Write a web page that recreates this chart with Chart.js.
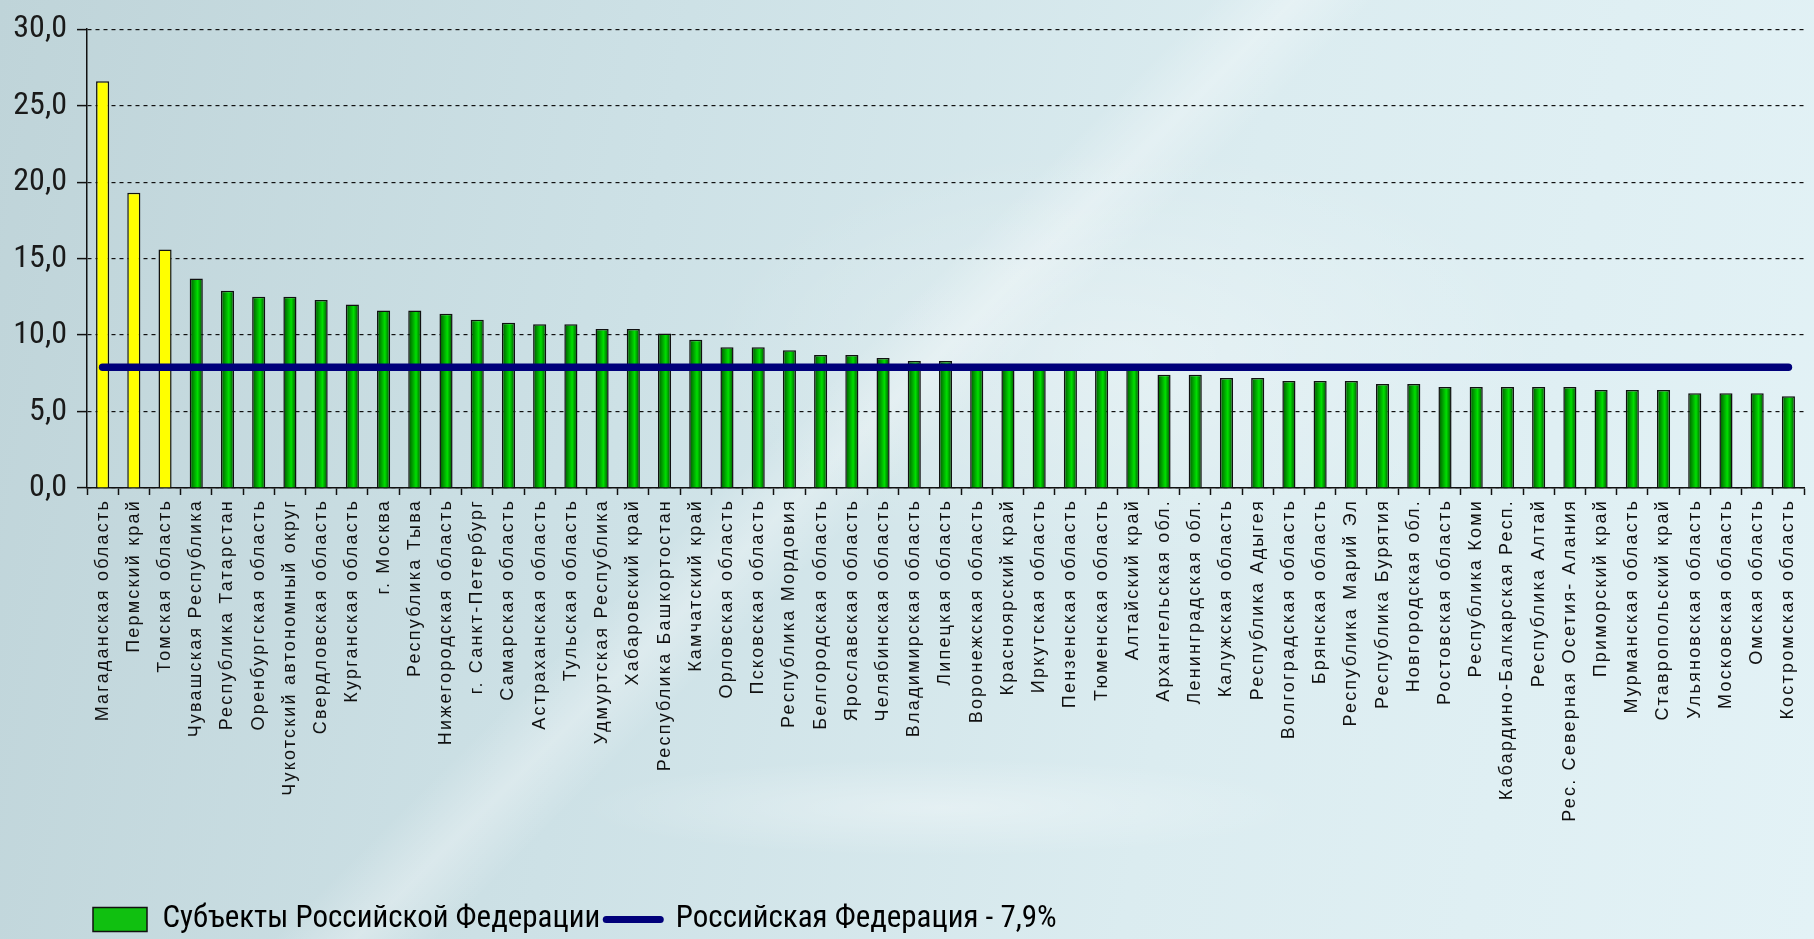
<!DOCTYPE html>
<html>
<head>
<meta charset="utf-8">
<script src="https://cdn.jsdelivr.net/npm/chart.js@4"></script>
<style>
  html, body { margin: 0; padding: 0; }
  body {
    width: 1814px; height: 939px; overflow: hidden;
    background:
      radial-gradient(ellipse 520px 70px at 52% 86%, rgba(255,255,255,0.35), rgba(255,255,255,0) 70%),
      radial-gradient(ellipse 600px 300px at 62% 38%, rgba(255,255,255,0.3), rgba(255,255,255,0) 70%),
      linear-gradient(135deg, rgba(255,255,255,0) 44%, rgba(255,255,255,0.3) 47%, rgba(255,255,255,0) 50%),
      linear-gradient(100deg, #bfd4d9 0%, #cde1e6 35%, #dbecf0 65%, #e3f2f6 100%);
  }
  #wrap { position: relative; width: 1814px; height: 939px; }
</style>
</head>
<body>
<div id="wrap"><canvas id="chart"></canvas></div>
<script>
// regions, sorted as in the original slide
const regions = [
  'Магаданская область', 'Пермский край', 'Томская область', 'Чувашская Республика',
  'Республика Татарстан', 'Оренбургская область', 'Чукотский автономный округ',
  'Свердловская область', 'Курганская область', 'г. Москва', 'Республика Тыва',
  'Нижегородская область', 'г. Санкт-Петербург', 'Самарская область', 'Астраханская область',
  'Тульская область', 'Удмуртская Республика', 'Хабаровский край', 'Республика Башкортостан',
  'Камчатский край', 'Орловская область', 'Псковская область', 'Республика Мордовия',
  'Белгородская область', 'Ярославская область', 'Челябинская область', 'Владимирская область',
  'Липецкая область', 'Воронежская область', 'Красноярский край', 'Иркутская область',
  'Пензенская область', 'Тюменская область', 'Алтайский край', 'Архангельская обл.',
  'Ленинградская обл.', 'Калужская область', 'Республика Адыгея', 'Волгоградская область',
  'Брянская область', 'Республика Марий Эл', 'Республика Бурятия', 'Новгородская обл.',
  'Ростовская область', 'Республика Коми', 'Кабардино-Балкарская Респ.', 'Республика Алтай',
  'Рес. Северная Осетия- Алания', 'Приморский край', 'Мурманская область',
  'Ставропольский край', 'Ульяновская область', 'Московская область', 'Омская область',
  'Костромская область'
];

// percent values per region
const values = [
  26.6, 19.3, 15.6, 13.7, 12.9, 12.5, 12.5, 12.3, 12.0, 11.6, 11.6,
  11.4, 11.0, 10.8, 10.7, 10.7, 10.4, 10.4, 10.1, 9.7, 9.2, 9.2,
  9.0, 8.7, 8.7, 8.5, 8.3, 8.3, 8.1, 8.0, 8.0, 7.9, 7.9,
  7.9, 7.4, 7.4, 7.2, 7.2, 7.0, 7.0, 7.0, 6.8, 6.8,
  6.6, 6.6, 6.6, 6.6, 6.6, 6.4, 6.4, 6.4, 6.2, 6.2, 6.2,
  6.0
];

const rfValue = 7.9;
const highlighted = ['Магаданская область', 'Пермский край', 'Томская область'];

const seriesNames = ['Субъекты Российской Федерации', 'Российская Федерация - 7,9%'];

const barPct = 0.42;
const narrow = '"Roboto Condensed", "DejaVu Sans Condensed", "Liberation Sans", sans-serif';

function barFill(c) {
  const chart = c.chart;
  if (c.type !== 'data') return '#10b010';
  if (highlighted.includes(regions[c.dataIndex])) return '#ffff00';
  const xs = chart.scales.x;
  if (!chart.chartArea || !xs) return '#10b010';
  const cx = xs.getPixelForValue(c.dataIndex);
  const w = xs.width / regions.length * barPct;
  const g = chart.ctx.createLinearGradient(cx - w / 2, 0, cx + w / 2, 0);
  g.addColorStop(0, '#005200');
  g.addColorStop(0.6, '#00e000');
  g.addColorStop(1, '#004800');
  return g;
}

// the slide's category labels are letter-spaced, canvas can do that
const spacedLabels = {
  id: 'spacedLabels',
  beforeDraw(chart) {
    const xs = chart.scales.x;
    if (xs._spaced) return;
    const orig = xs.drawLabels;
    xs.drawLabels = function (area) {
      const c = this.ctx;
      c.save();
      c.letterSpacing = '2.2px';
      orig.call(this, area);
      c.restore();
    };
    xs._spaced = true;
  }
};

const ctx = document.getElementById('chart').getContext('2d');

new Chart(ctx, {
  data: {
    labels: regions,
    datasets: [
      {
        type: 'line',
        label: seriesNames[1],
        data: regions.map(() => rfValue),
        borderColor: '#00007a',
        borderWidth: 7.5,
        borderCapStyle: 'round',
        pointRadius: 0,
        order: 1
      },
      {
        type: 'bar',
        label: seriesNames[0],
        data: values,
        backgroundColor: barFill,
        borderColor: '#111',
        borderWidth: 1.5,
        barPercentage: barPct,
        categoryPercentage: 1,
        order: 2
      }
    ]
  },
  plugins: [spacedLabels],
  options: {
    responsive: true,
    maintainAspectRatio: false,
    animation: false,
    layout: { padding: { top: 16, right: 0, bottom: -6, left: 0 } },
    plugins: {
      tooltip: { enabled: false },
      legend: {
        position: 'bottom',
        align: 'start',
        fullSize: false,
        labels: {
          color: '#111',
          font: { family: narrow, size: 31, lineHeight: 0.8 },
          usePointStyle: true,
          pointStyleWidth: 54,
          boxHeight: 24,
          padding: 6,
          generateLabels: (chart) => [
            {
              text: seriesNames[0], fillStyle: '#10c010', strokeStyle: '#111',
              lineWidth: 1.5, pointStyle: 'rect', datasetIndex: 1
            },
            {
              text: seriesNames[1], fillStyle: '#00007a', strokeStyle: '#00007a',
              lineWidth: 7, lineCap: 'round', pointStyle: 'line', datasetIndex: 0
            }
          ]
        }
      }
    },
    scales: {
      x: {
        afterFit: (s) => { s.height = 410; },
        grid: {
          drawOnChartArea: false,
          tickLength: 7,
          tickColor: '#111',
          tickWidth: 1.5
        },
        border: { color: '#111', width: 1.5 },
        ticks: {
          autoSkip: false,
          maxRotation: 90,
          minRotation: 90,
          padding: 4,
          color: '#111',
          font: { family: '"Liberation Sans", Arial, sans-serif', size: 18 }
        }
      },
      y: {
        min: 0,
        max: 30,
        afterFit: (s) => { s.width = 87; },
        grid: {
          color: '#111',
          lineWidth: 1.2,
          tickLength: 10,
          tickColor: '#111',
          tickWidth: 1.5,
          tickBorderDash: []
        },
        border: { color: '#111', width: 1.5, dash: [4, 4] },
        ticks: {
          stepSize: 5,
          padding: 10,
          color: '#1a1a1a',
          font: { family: narrow, size: 32 },
          callback: (v) => v.toFixed(1).replace('.', ',')
        }
      }
    }
  }
});
</script>
</body>
</html>
